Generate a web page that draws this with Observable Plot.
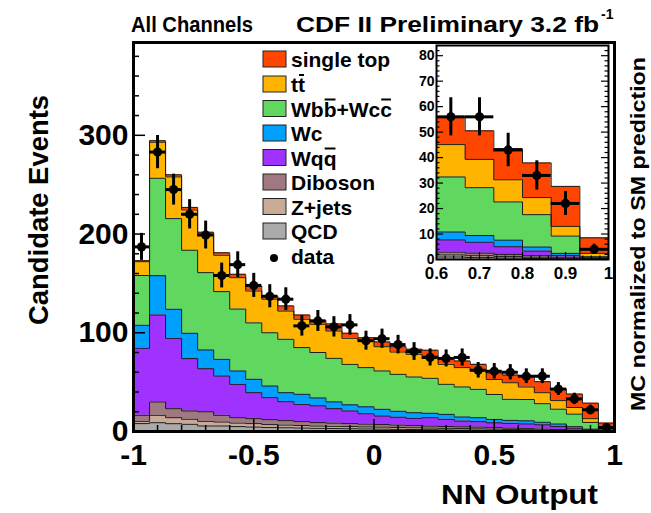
<!DOCTYPE html>
<html>
<head>
<meta charset="utf-8">
<script src="https://cdn.jsdelivr.net/npm/d3@7"></script>
<script src="https://cdn.jsdelivr.net/npm/@observablehq/plot@0.6"></script>
<style>
  html, body { margin: 0; padding: 0; background: #fff; }
  #chart { width: 651px; height: 513px; }
</style>
</head>
<body>
<div id="chart"></div>
<script>
// ---------------- DATA (30 bins of NN output from -1 to 1) ----------------
const nBins = 30;
// stack order: bottom -> top  (U+0305 marks a letter drawn with an overline)
const seriesNames  = ["QCD", "Z+jets", "Diboson", "Wqq\u0305", "Wc", "Wbb\u0305+Wcc\u0305", "tt\u0305", "single top"];
const seriesColors = ["#aaaaaa", "#c8aa96", "#a07882", "#a032ff", "#00a0ff", "#60d860", "#ffb400", "#ff4600"];

const qcd       = [8, 8.9, 7.9, 7.3, 5.6, 5.6, 5, 4.5, 4, 3.8, 3.5, 3.2, 3, 2.8, 2.6, 2.4, 2.2, 2, 1.8, 1.6, 1.4, 1.3, 1.2, 1.1, 1, 0.8, 0.6, 0.4, 0.2, 0.1];
const zjets     = [2.3, 7.5, 6.1, 5.1, 4.7, 4.0, 3.5, 3.5, 3, 2.7, 2.5, 2.3, 2.2, 2.2, 2.1, 2.0, 1.9, 1.8, 1.7, 1.6, 1.6, 1.4, 1.2, 1.0, 0.8, 0.7, 0.6, 0.5, 0.3, 0.1];
const diboson   = [6.1, 13.5, 9.1, 8.4, 9.7, 6.8, 5.5, 5, 5, 4.5, 4, 3.5, 3.3, 3, 2.8, 2.6, 2.4, 2.2, 2, 1.8, 1.8, 1.8, 1.6, 1.4, 1.1, 1.0, 0.8, 0.6, 0.4, 0.1];
const wqq       = [67.9, 88.1, 71.3, 53, 43.6, 39.8, 33.8, 26.3, 22.3, 19.2, 17.5, 17, 14.6, 12.8, 10.5, 8.7, 8, 7.4, 8.5, 7.4, 5.8, 5.5, 4.8, 4.8, 4.8, 4.3, 3.0, 1.8, 0.7, 0.2];
const wc        = [23.3, 39.8, 29.4, 25.7, 19, 16.9, 13.5, 13.6, 11.8, 9.1, 10.2, 8, 6.9, 6.2, 7, 6.8, 6, 5.6, 4.5, 5, 4.1, 4, 3.4, 3, 3.1, 2.6, 2.6, 1.6, 0.8, 0.2];
const wbb       = [50.4, 98.7, 91.8, 84.1, 78.3, 68.6, 62.7, 57.1, 53.9, 54.1, 47.3, 46, 44.1, 41, 39.7, 38.8, 37.4, 36.2, 35.4, 30.4, 30.4, 28.7, 25.3, 21.3, 21.6, 18.8, 15, 12.7, 6.8, 0.4];
const ttbar     = [14, 36.5, 42.3, 40.8, 39.1, 36.8, 31.8, 32.3, 34, 28.6, 28.7, 28.6, 27.7, 26.4, 27.7, 24.6, 22.6, 23, 22.6, 20.2, 19.6, 19.3, 15.2, 16.8, 12.7, 11.1, 8.7, 6.7, 3.8, 1.3];
const singleTop = [1, 1.5, 2.1, 2.6, 1.8, 2.5, 3.4, 5.1, 3.3, 5.2, 4.3, 4, 7.2, 5.1, 2.6, 4.8, 5.4, 5.1, 5.8, 6.1, 6.7, 6, 6.7, 7.8, 10.9, 11.2, 12.2, 13.6, 15.7, 6.1];
const dataCounts = [187, 283, 245, 220, 199, 158, 169, 148, 137, 134, 107, 112, 106, 108, 92, 94, 88, 81, 75, 74, 75, 62, 61, 60, 56, 56, 43, 33, 22, 4];

const seriesValues = [qcd, zjets, diboson, wqq, wc, wbb, ttbar, singleTop];
const mainYTicks  = [0, 100, 200, 300];
const mainXTicks  = [-1, -0.5, 0, 0.5, 1];
const insetYTicks = [0, 10, 20, 30, 40, 50, 60, 70, 80];
const insetXTicks = [0.6, 0.7, 0.8, 0.9, 1];
const legendOrder = ["single top", "tt\u0305", "Wbb\u0305+Wcc\u0305", "Wc", "Wqq\u0305", "Diboson", "Z+jets", "QCD"];

// ---------------- derived tables ----------------
const edge = i => (i - 15) / 15;
const histRows = [];
seriesNames.forEach((s, k) => {
  for (let i = 0; i <= nBins; i++) {
    histRows.push({series: s, bin: i, x: edge(i), y: seriesValues[k][Math.min(i, nBins - 1)]});
  }
});
const points = dataCounts.map((n, i) => ({
  bin: i, lo: edge(i), hi: edge(i + 1), xc: (edge(i) + edge(i + 1)) / 2,
  n, e1: n - Math.sqrt(n), e2: n + Math.sqrt(n)
}));

const FONT = "'Liberation Sans', Arial, Helvetica, sans-serif";

// ---------------- main plot ----------------
const MX = 240.5, MY = 389 / 394; // px per unit (used for tick lengths)
const yMinor = d3.range(20, 394, 20).filter(v => v % 100 !== 0);
const xMinor = d3.range(-9, 10).map(v => v / 10).filter(v => Math.abs(v * 2 - Math.round(v * 2)) > 1e-9);

const main = Plot.plot({
  width: 651, height: 513,
  marginLeft: 133, marginRight: 37, marginTop: 42, marginBottom: 82,
  style: {fontFamily: FONT, background: "transparent", overflow: "visible"},
  x: {domain: [-1, 1], axis: null},
  y: {domain: [0, 394], axis: null},
  color: {domain: seriesNames, range: seriesColors},
  marks: [
    Plot.areaY(histRows, {x: "x", y: "y", z: "series", fill: "series", curve: "step-after", order: seriesNames}),
    Plot.line(histRows, Plot.stackY2({x: "x", y: "y", z: "series", order: seriesNames, curve: "step-after", stroke: "#1c1c1c", strokeWidth: 1})),
    // ticks (inside frame)
    Plot.ruleY(mainYTicks, {y: d => d, x1: -1, x2: -1 + 12 / MX, stroke: "black", strokeWidth: 1.5}),
    Plot.ruleY(yMinor, {y: d => d, x1: -1, x2: -1 + 6 / MX, stroke: "black", strokeWidth: 1.5}),
    Plot.ruleX(mainXTicks, {x: d => d, y1: 0, y2: 12 / MY, stroke: "black", strokeWidth: 1.5}),
    Plot.ruleX(xMinor, {x: d => d, y1: 0, y2: 6 / MY, stroke: "black", strokeWidth: 1.5}),
    // data
    Plot.ruleX(points, {x: "xc", y1: "e1", y2: "e2", stroke: "black", strokeWidth: 3}),
    Plot.ruleY(points, {y: "n", x1: "lo", x2: "hi", stroke: "black", strokeWidth: 3}),
    Plot.dot(points, {x: "xc", y: "n", r: 4.6, fill: "black", stroke: "none"}),
    Plot.frame({stroke: "black", strokeWidth: 3}),
    // tick labels
    Plot.text(mainYTicks, {x: -1, y: d => d, text: d => String(d), textAnchor: "end", dx: -5, fontSize: 30, fontWeight: "bold", fill: "black"}),
    Plot.text(mainXTicks, {x: d => d, y: 0, text: d => String(d), lineAnchor: "top", dy: 12, fontSize: 30, fontWeight: "bold", fill: "black"})
  ]
});

// ---------------- inset ----------------
const insetRows = histRows.filter(d => d.bin >= 24);
const insetPts = points.filter(d => d.bin >= 24);
const IX = 172 / 0.4, IY = 213.5 / 84;
const iyMinor = d3.range(2, 84, 2).filter(v => v % 10 !== 0);
const ixMinor = d3.range(30, 50).map(v => v / 50).filter(v => Math.abs(v * 10 - Math.round(v * 10)) > 1e-9);

const inset = Plot.plot({
  width: 225, height: 255,
  marginLeft: 41, marginRight: 12, marginTop: 7, marginBottom: 34,
  style: {fontFamily: FONT, background: "transparent", overflow: "visible", width: "225px", height: "255px", maxWidth: "none"},
  x: {domain: [0.6, 1], axis: null},
  y: {domain: [0, 84], axis: null},
  color: {domain: seriesNames, range: seriesColors},
  marks: [
    Plot.areaY(insetRows, {x: "x", y: "y", z: "series", fill: "series", curve: "step-after", order: seriesNames}),
    Plot.line(insetRows, Plot.stackY2({x: "x", y: "y", z: "series", order: seriesNames, curve: "step-after", stroke: "#1c1c1c", strokeWidth: 1})),
    Plot.ruleY(insetYTicks, {y: d => d, x1: 0.6, x2: 0.6 + 7 / IX, stroke: "black", strokeWidth: 1.2}),
    Plot.ruleY(iyMinor, {y: d => d, x1: 0.6, x2: 0.6 + 3.5 / IX, stroke: "black", strokeWidth: 1.2}),
    Plot.ruleY(insetYTicks, {y: d => d, x1: 1 - 7 / IX, x2: 1, stroke: "black", strokeWidth: 1.2}),
    Plot.ruleY(iyMinor, {y: d => d, x1: 1 - 3.5 / IX, x2: 1, stroke: "black", strokeWidth: 1.2}),
    Plot.ruleX(insetXTicks, {x: d => d, y1: 0, y2: 7 / IY, stroke: "black", strokeWidth: 1.2}),
    Plot.ruleX(ixMinor, {x: d => d, y1: 0, y2: 3.5 / IY, stroke: "black", strokeWidth: 1.2}),
    Plot.ruleX(insetPts, {x: "xc", y1: "e1", y2: "e2", stroke: "black", strokeWidth: 3}),
    Plot.ruleY(insetPts, {y: "n", x1: "lo", x2: "hi", stroke: "black", strokeWidth: 3}),
    Plot.dot(insetPts, {x: "xc", y: "n", r: 4.6, fill: "black", stroke: "none"}),
    Plot.frame({stroke: "black", strokeWidth: 2}),
    Plot.text(insetYTicks, {x: 0.6, y: d => d, text: d => String(d), textAnchor: "end", dx: -2, fontSize: 14, fontWeight: "bold", fill: "black"}),
    Plot.text(insetXTicks, {x: d => d, y: 0, text: d => d === 1 ? "1" : d.toFixed(1), lineAnchor: "top", dy: 7, fontSize: 17, fontWeight: "bold", fill: "black"})
  ]
});

// ---------------- assemble ----------------
const svg = d3.select(main);
d3.select(inset).attr("x", 395).attr("y", 38).attr("width", 225).attr("height", 255);
main.appendChild(inset);
document.getElementById("chart").appendChild(main);

function addText(x, y, str, opts = {}) {
  const t = svg.append("text")
    .attr("x", x).attr("y", y)
    .attr("font-family", FONT)
    .attr("font-size", opts.size || 20)
    .attr("font-weight", opts.weight || "bold")
    .attr("fill", "black")
    .attr("text-anchor", opts.anchor || "start");
  if (opts.rotate) t.attr("transform", `rotate(-90 ${x} ${y})`);
  if (opts.length) t.attr("textLength", opts.length).attr("lengthAdjust", "spacingAndGlyphs");
  t.text(str);
  return t;
}

// titles
addText(131, 32, "All Channels", {size: 22, weight: "bold", length: 122});
addText(296, 32, "CDF II Preliminary 3.2 fb", {size: 22, weight: "bold", length: 303});
addText(601, 19, "-1", {size: 14, weight: "bold"});

// axis titles
addText(48, 210, "Candidate Events", {size: 27, rotate: true, anchor: "middle", length: 230});
addText(598, 504, "NN Output", {size: 28, anchor: "end", length: 157});
addText(645, 234, "MC normalized to SM prediction", {size: 20, rotate: true, anchor: "middle", length: 354});

// legend
const legBase = [67, 92, 116.5, 141, 165.5, 190, 214.5, 239];
const lg = svg.append("g").attr("text-anchor", "start");
legendOrder.forEach((name, i) => {
  const color = seriesColors[seriesNames.indexOf(name)];
  const yb = legBase[i];
  lg.append("rect").attr("x", 263).attr("y", yb - 16).attr("width", 23).attr("height", 16)
    .attr("fill", color).attr("stroke", "#222").attr("stroke-width", 1);
  // split into plain letters + indices of letters with an overline
  const chars = Array.from(name);
  let plain = "", bars = [];
  chars.forEach((c, j) => {
    if (c === "\u0305") return;
    if (chars[j + 1] === "\u0305") bars.push(plain.length);
    plain += c;
  });
  const t = lg.append("text").attr("x", 291).attr("y", yb).attr("text-anchor", "start")
    .attr("font-family", FONT).attr("font-size", 21).attr("font-weight", "bold").attr("fill", "black")
    .text(plain);
  bars.forEach(idx => {
    let x0, w;
    try {
      const ext = t.node().getExtentOfChar(idx);
      x0 = ext.x; w = ext.width;
    } catch (e) { x0 = 291 + idx * 11.7; w = 11.7; }
    lg.append("line").attr("x1", x0 + 1).attr("x2", x0 + w - 1)
      .attr("y1", yb - 17).attr("y2", yb - 17)
      .attr("stroke", "black").attr("stroke-width", 2);
  });
});
lg.append("circle").attr("cx", 274).attr("cy", 258).attr("r", 4).attr("fill", "black");
lg.append("text").attr("x", 291).attr("y", 263.5).attr("text-anchor", "start")
  .attr("font-family", FONT).attr("font-size", 21).attr("font-weight", "bold").attr("fill", "black").text("data");
</script>
</body>
</html>
